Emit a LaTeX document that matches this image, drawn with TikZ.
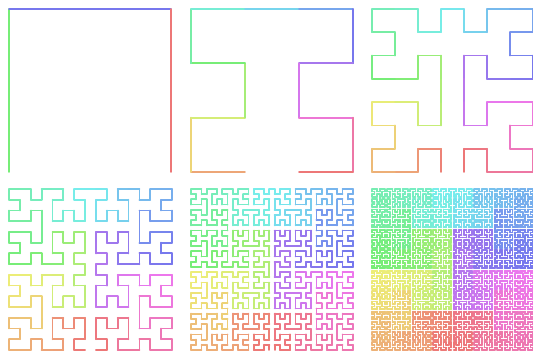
\documentclass[tikz,border=0pt]{standalone}
\usepackage{xcolor}
\usepackage{tikz}

\newcount\hilx \newcount\hily \newcount\hilt \newcount\hils
\newcount\hilrx \newcount\hilry \newcount\hiltmp
\newcount\hilm \newcount\hilq \newcount\hild

% point number #2 on a Hilbert curve of side #1 -> (\hilx,\hily)
\newcommand{\hilbertpoint}[2]{%
  \hilt=#2\relax \hilx=0 \hily=0 \hils=1
  \loop\ifnum\hils<#1\relax
    \hiltmp=\hilt \divide\hiltmp by 2
    \hilrx=\hiltmp \divide\hilrx by 2 \multiply\hilrx by -2 \advance\hilrx by \hiltmp
    \hilry=\hilt \divide\hilry by 2 \multiply\hilry by -2 \advance\hilry by \hilt
    \ifnum\hilry=\hilrx \hilry=0 \else \hilry=1 \fi
    \ifnum\hilry=0
      \ifnum\hilrx=1
        \hilx=\numexpr\hils-1-\hilx\relax
        \hily=\numexpr\hils-1-\hily\relax
      \fi
      \hiltmp=\hilx \hilx=\hily \hily=\hiltmp
    \fi
    \advance\hilx by \numexpr\hils*\hilrx\relax
    \advance\hily by \numexpr\hils*\hilry\relax
    \divide\hilt by 4
    \multiply\hils by 2
  \repeat}

% point number #2 on a closed (Moore) curve of side #1:
% four Hilbert quarters, entering and leaving at the bottom middle
\newcommand{\moorepoint}[2]{%
  \hilm=\numexpr#1/2\relax
  \hilq=#2\relax \divide\hilq by \numexpr\hilm*\hilm\relax
  \hild=\numexpr#2-\hilq*\hilm*\hilm\relax
  \hilbertpoint{\hilm}{\hild}%
  \hiltmp=\hilx
  \ifcase\hilq
    \hilx=\numexpr\hilm-1-\hily\relax \hily=\hiltmp
  \or
    \hilx=\numexpr\hilm-1-\hily\relax \hily=\numexpr\hiltmp+\hilm\relax
  \or
    \hilx=\numexpr\hilm+\hily\relax \hily=\numexpr2*\hilm-1-\hiltmp\relax
  \else
    \hilx=\numexpr\hilm+\hily\relax \hily=\numexpr\hilm-1-\hiltmp\relax
  \fi}

% one panel: side #1, lower left (#2,#3), width #4, height #5
\newcommand{\moorepanel}[5]{%
  \pgfmathsetmacro{\hstepx}{#4/(#1-1)}
  \pgfmathsetmacro{\hstepy}{#5/(#1-1)}
  \pgfmathtruncatemacro{\nseg}{#1*#1-1}
  \moorepoint{#1}{0}
  \xdef\px{\the\hilx}\xdef\py{\the\hily}
  \foreach \d in {1,...,\nseg}{
    \moorepoint{#1}{\d}
    \pgfmathsetmacro{\hue}{min(360,\d/\nseg*360)}
    \convertcolorspec{Hsb}{\hue,0.5,0.93}{rgb}\segrgb
    \definecolor{segcol}{rgb}{\segrgb}
    \draw[curve, draw=segcol] (#2+\px*\hstepx, #3+\py*\hstepy)
      -- (#2+\the\hilx*\hstepx, #3+\the\hily*\hstepy);
    \xdef\px{\the\hilx}\xdef\py{\the\hily}
  }
}

\begin{document}
\begin{tikzpicture}[x=1pt, y=1pt,
    curve/.style={line width=1.8pt, line cap=round}]
  \useasboundingbox (0,0) rectangle (533,356);
  % top row: orders 1 to 3
  \moorepanel{2}{9}{184}{162}{163}
  \moorepanel{4}{191}{184}{162}{163}
  \moorepanel{8}{372}{184}{161}{163}
  % bottom row: orders 4 to 6
  \moorepanel{16}{9}{6}{163}{161}
  \moorepanel{32}{191}{6}{162}{161}
  \moorepanel{64}{372}{6}{161}{161}
\end{tikzpicture}
\end{document}
